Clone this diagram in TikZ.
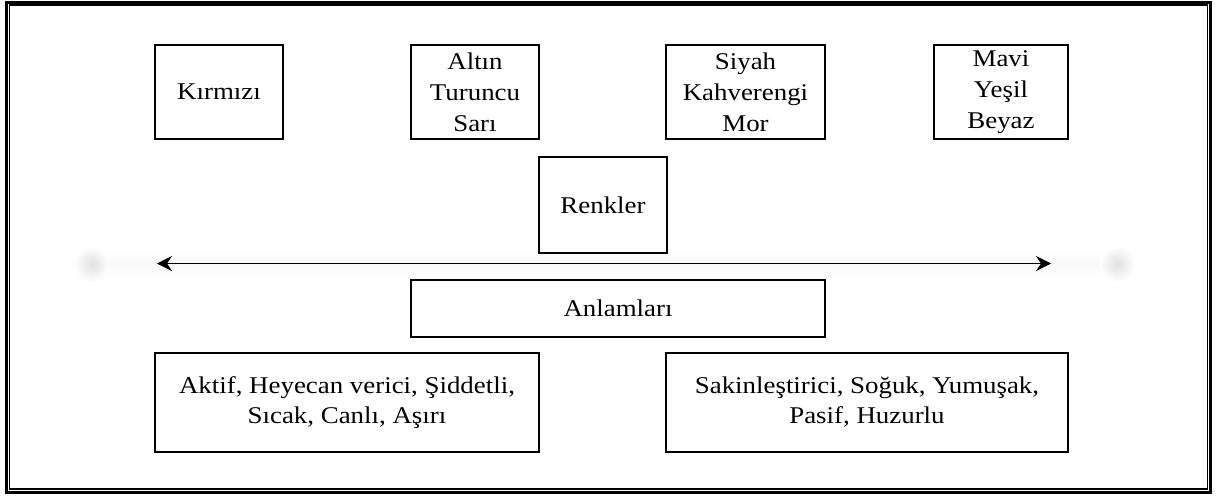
\documentclass[tikz,border=0pt]{standalone}
\usepackage{fontspec}
\setmainfont{Liberation Serif}[FakeStretch=1.12]
\usetikzlibrary{arrows.meta}
\tikzset{
  box/.style={draw=black, line width=2pt, inner sep=0pt, align=center,
    font=\fontsize{24}{31}\selectfont},
  wide/.style={box, font=\fontsize{24}{30}\selectfont},
  conn/.style={line width=1.1pt, {Stealth[length=15pt,width=15pt,inset=5pt]}-{Stealth[length=15pt,width=15pt,inset=5pt]}}
}
\begin{document}
\begin{tikzpicture}[x=1pt,y=-1pt]
\useasboundingbox (0,0) rectangle (1221,496);
\fill[white] (0,0) rectangle (1221,496);
% page border
\draw[line width=3pt] (6.5,2) rectangle (1210.5,492);
\draw[line width=1.2pt] (9.5,5) rectangle (1207.5,489);
% faint shadow band and blobs
\shade[top color=white, bottom color=white, middle color=black!3] (92,250) rectangle (1117,278);
\shade[inner color=black!12, outer color=white] (92,264) circle (18);
\shade[inner color=black!12, outer color=white] (1117,264) circle (18);
% boxes
\node[box, minimum width=128pt, minimum height=94pt] (k) at (219,92) {Kırmızı};
\node[box, minimum width=128pt, minimum height=94pt] (a) at (475,92) {Altın\\Turuncu\\Sarı};
\node[box, minimum width=159pt, minimum height=94pt] (s) at (745.5,92) {Siyah\\Kahverengi\\Mor};
\node[box, minimum width=134pt, minimum height=94pt] (m) at (1001,92) {Mavi\\Yeşil\\Beyaz};
\node[box, minimum width=128pt, minimum height=96pt] (r) at (603,205) {Renkler};
\node[box, minimum width=414pt, minimum height=57pt] (an) at (618,308.5) {Anlamları};
\node[wide, minimum width=384pt, minimum height=99pt] (l) at (347,402.5) {Aktif, Heyecan verici, Şiddetli,\\Sıcak, Canlı, Aşırı};
\node[wide, minimum width=402pt, minimum height=99pt] (rr) at (867,402.5) {Sakinleştirici, Soğuk, Yumuşak,\\Pasif, Huzurlu};
% arrow
\coordinate (al) at (157,263.5);
\coordinate (ar) at (1051,263.5);
\draw[conn] (al) -- (ar);
\end{tikzpicture}
\end{document}
